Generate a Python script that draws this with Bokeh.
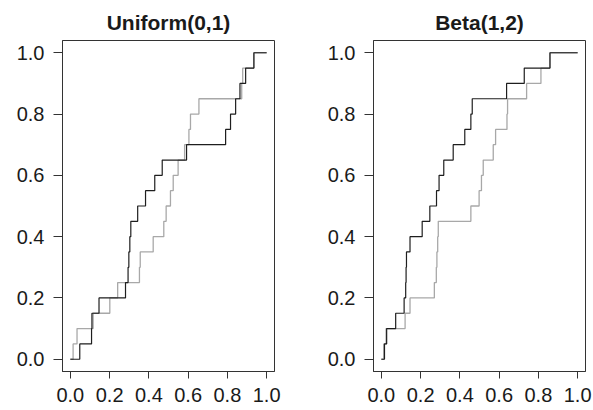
import numpy as np
from bokeh.plotting import figure
from bokeh.layouts import row
from bokeh.models import Range1d, FixedTicker, CustomJSTickFormatter
from bokeh.embed import file_html
from bokeh.resources import INLINE

# ---- data (sample values; each ECDF has 20 jumps) ----
titles = ["Uniform(0,1)", "Beta(1,2)"]

unif_black = [0.048, 0.108, 0.110, 0.146, 0.281, 0.294, 0.298, 0.303, 0.308, 0.343,
              0.383, 0.430, 0.468, 0.592, 0.791, 0.816, 0.842, 0.864, 0.893, 0.935]
unif_gray = [0.014, 0.034, 0.116, 0.201, 0.241, 0.352, 0.356, 0.422, 0.476, 0.488,
             0.510, 0.524, 0.549, 0.582, 0.604, 0.612, 0.655, 0.873, 0.878, 0.935]

beta_black = [0.016, 0.027, 0.073, 0.116, 0.124, 0.126, 0.128, 0.146, 0.208, 0.247,
              0.281, 0.294, 0.318, 0.366, 0.425, 0.456, 0.463, 0.638, 0.728, 0.859]
beta_gray = [0.012, 0.024, 0.121, 0.146, 0.270, 0.280, 0.283, 0.287, 0.290, 0.456,
             0.498, 0.510, 0.519, 0.570, 0.582, 0.640, 0.643, 0.740, 0.813, 0.859]

tick_vals = [0.0, 0.2, 0.4, 0.6, 0.8, 1.0]
tick_labels = ["0.0", "0.2", "0.4", "0.6", "0.8", "1.0"]

BLACK = "#1e1e1e"
GRAY = "#a8a8a8"
FONT = "Liberation Sans"


def ecdf_steps(samples):
    s = sorted(samples)
    n = len(s)
    xs = [0.0] + s + [1.0]
    ys = [0.0] + [(i + 1) / n for i in range(n)] + [1.0]
    return xs, ys


def make_panel(title, black, gray, left_border, right_border):
    p = figure(frame_width=212, frame_height=331,
               min_border_left=left_border, min_border_right=right_border,
               min_border_top=40, min_border_bottom=0,
               x_range=Range1d(-0.04, 1.04), y_range=Range1d(-0.04, 1.04),
               output_backend="svg", toolbar_location=None, title=title)
    p.title.align = "center"
    p.title.text_font = FONT
    p.title.text_font_size = "21px"
    p.title.text_font_style = "bold"
    p.title.text_color = "#1a1a1a"
    p.title.standoff = 14
    p.grid.visible = False
    p.outline_line_color = "#333333"
    p.outline_line_width = 1
    p.background_fill_color = "white"
    p.border_fill_color = "white"

    fmt = CustomJSTickFormatter(args=dict(vals=tick_vals, labs=tick_labels), code="""
        for (let i = 0; i < vals.length; i++) {
            if (Math.abs(vals[i] - tick) < 1e-9) return labs[i];
        }
        return tick.toFixed(1);
    """)
    for ax, tout, stand in ((p.xaxis[0], 7, 9), (p.yaxis[0], 9, 9)):
        ax.ticker = FixedTicker(ticks=tick_vals)
        ax.formatter = fmt
        ax.minor_tick_line_color = None
        ax.major_tick_in = 0
        ax.major_tick_out = tout
        ax.major_label_standoff = stand
        ax.major_label_text_font = FONT
        ax.major_label_text_font_size = "20px"
        ax.major_label_text_color = "#1a1a1a"
        ax.axis_line_color = "#333333"
        ax.major_tick_line_color = "#333333"
    p.yaxis[0].major_label_orientation = "horizontal"

    xg, yg = ecdf_steps(gray)
    xb, yb = ecdf_steps(black)
    p.step(xg, yg, mode="after", line_color=GRAY, line_width=1.3)
    p.step(xb, yb, mode="after", line_color=BLACK, line_width=1.2)
    return p


p1 = make_panel(titles[0], unif_black, unif_gray, 62, 24)
p2 = make_panel(titles[1], beta_black, beta_gray, 75, 9)
layout = row(p1, p2)

open("out.html", "w").write(file_html(layout, INLINE))
